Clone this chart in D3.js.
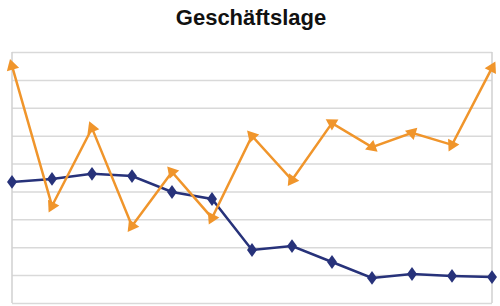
<!DOCTYPE html>
<html>
<head>
<meta charset="utf-8">
<script src="https://cdn.jsdelivr.net/npm/d3@7"></script>
<style>
  body { margin: 0; background: #fff; }
  svg { display: block; }
</style>
</head>
<body>
<div id="chart"></div>
<script>
// Data (axis scale 0..90)
const categories = ["1", "2", "3", "4", "5", "6", "7", "8", "9", "10", "11", "12", "13"];
const navyValues = [43.4, 44.5, 46.3, 45.5, 39.8, 37.3, 19.0, 20.4, 14.7, 9.0, 10.4, 9.7, 9.3];
const orangeValues = [85.0, 34.8, 62.7, 27.6, 47.0, 30.5, 59.9, 44.1, 64.5, 55.9, 61.0, 56.7, 84.3];
const yTicks = [0, 10, 20, 30, 40, 50, 60, 70, 80, 90];

const width = 500;
const height = 306;
const margin = { top: 52, right: 8, bottom: 3, left: 12 };

const svg = d3.select("#chart")
  .append("svg")
  .attr("width", width)
  .attr("height", height);

// Title
svg.append("text")
  .attr("x", 251)
  .attr("y", 25)
  .attr("text-anchor", "middle")
  .style("font-family", "'Liberation Sans', Arial, sans-serif")
  .style("font-weight", "bold")
  .style("font-size", "22px")
  .attr("fill", "#111")
  .text("Geschäftslage");

const x = d3.scalePoint()
  .domain(categories)
  .range([margin.left, width - margin.right]);

const y = d3.scaleLinear()
  .domain([0, 90])
  .range([height - margin.bottom, margin.top]);

// Gridlines
const grid = svg.append("g")
  .attr("transform", `translate(${margin.left},0)`)
  .call(d3.axisLeft(y)
    .tickValues(yTicks)
    .tickSize(-(width - margin.left - margin.right))
    .tickFormat(""));
grid.select(".domain").remove();
grid.selectAll("line")
  .attr("stroke", "#d9d9d9")
  .attr("stroke-width", 1.5);

// Left and right plot edges
[margin.left, width - margin.right].forEach(px => {
  svg.append("line")
    .attr("x1", px).attr("x2", px)
    .attr("y1", y(90)).attr("y2", y(0))
    .attr("stroke", "#d0d0d0")
    .attr("stroke-width", 1.5);
});

const line = d3.line()
  .x((d, i) => x(categories[i]))
  .y(d => y(d));

// Navy series
svg.append("path")
  .datum(navyValues)
  .attr("fill", "none")
  .attr("stroke", "#27327a")
  .attr("stroke-width", 2.5)
  .attr("d", line);

svg.selectAll("path.navy-marker")
  .data(navyValues)
  .enter()
  .append("path")
  .attr("class", "navy-marker")
  .attr("d", d3.symbol().type(d3.symbolDiamond).size(55))
  .attr("transform", (d, i) => `translate(${x(categories[i])},${y(d)}) scale(1.25,1)`)
  .attr("fill", "#27327a");

// Orange series
svg.append("path")
  .datum(orangeValues)
  .attr("fill", "none")
  .attr("stroke", "#f0952b")
  .attr("stroke-width", 2.5)
  .attr("d", line);

// Triangles point away from the next point (the last one along the incoming segment)
function markerAngle(i) {
  let ax, ay, bx, by;
  if (i < orangeValues.length - 1) {
    ax = x(categories[i + 1]); ay = y(orangeValues[i + 1]);
    bx = x(categories[i]); by = y(orangeValues[i]);
  } else {
    ax = x(categories[i - 1]); ay = y(orangeValues[i - 1]);
    bx = x(categories[i]); by = y(orangeValues[i]);
  }
  return Math.atan2(by - ay, bx - ax) * 180 / Math.PI + 90;
}

svg.selectAll("path.orange-marker")
  .data(orangeValues)
  .enter()
  .append("path")
  .attr("class", "orange-marker")
  .attr("d", d3.symbol().type(d3.symbolTriangle).size(70))
  .attr("transform", (d, i) => `translate(${x(categories[i])},${y(d)}) rotate(${markerAngle(i)})`)
  .attr("fill", "#f0952b");
</script>
</body>
</html>
